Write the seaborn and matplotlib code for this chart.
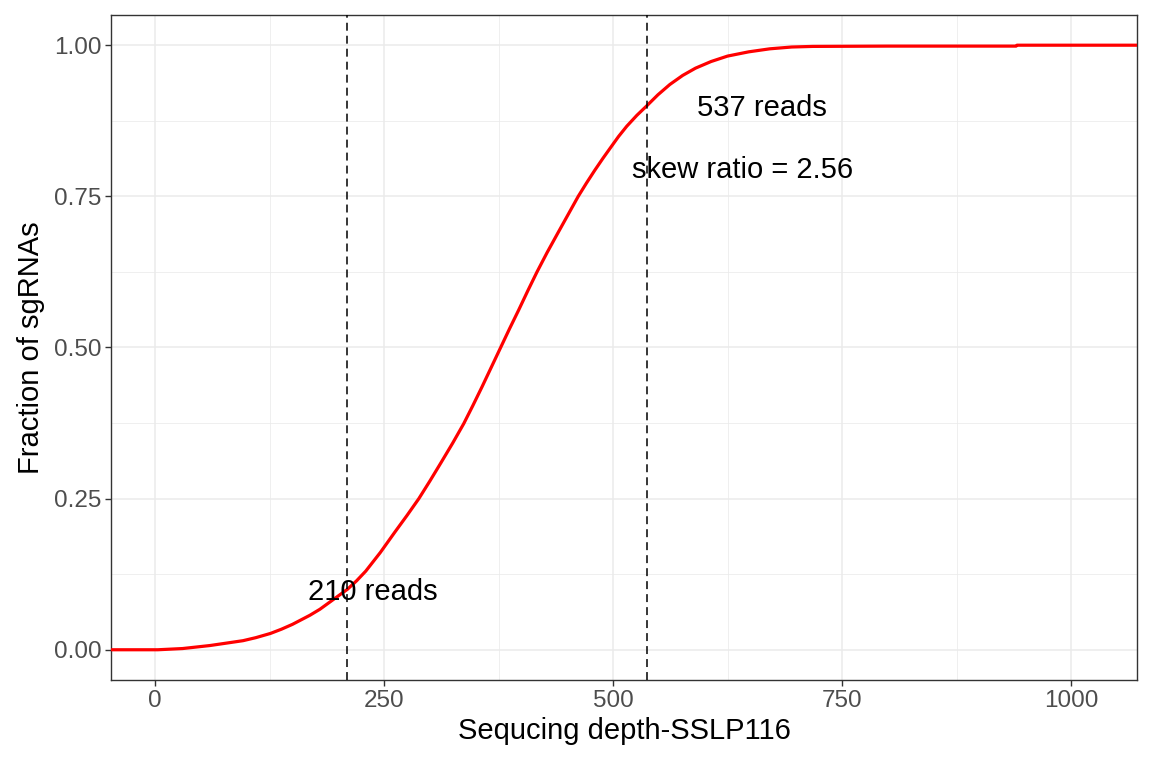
import matplotlib
matplotlib.use('Agg')

import matplotlib.pyplot as plt
import seaborn as sns
import pandas as pd
from matplotlib.ticker import FixedLocator

# =========================================================
# DATA (read off the reference ECDF)
# =========================================================

depth = [3, 30, 60, 96, 110, 126, 138, 150, 169, 180, 190, 200, 210, 220,
         230, 246, 262, 275, 288, 300, 312, 325, 337, 347, 357, 367, 377,
         387, 397, 407, 417, 428, 440, 451, 462, 471, 480, 489, 497, 506,
         515, 526, 537, 549, 562, 576, 590, 607, 625, 648, 671, 695, 718,
         800, 940, 941, 1021]
fraction = [0.0, 0.002, 0.007, 0.015, 0.020, 0.027, 0.034, 0.042, 0.057,
            0.067, 0.078, 0.089, 0.100, 0.114, 0.130, 0.161, 0.195, 0.222,
            0.250, 0.279, 0.309, 0.342, 0.374, 0.404, 0.435, 0.467, 0.499,
            0.531, 0.562, 0.594, 0.625, 0.657, 0.690, 0.720, 0.750, 0.772,
            0.793, 0.813, 0.830, 0.849, 0.866, 0.884, 0.900, 0.918, 0.935,
            0.950, 0.962, 0.973, 0.982, 0.989, 0.994, 0.997, 0.998, 0.9985,
            0.9985, 1.0, 1.0]

cutoffs = [210, 537]
annot_text = ['210 reads', '537 reads', 'skew ratio = 2.56']
annot_x = [238, 663, 641]
annot_y = [0.096, 0.896, 0.794]

x_ticks = [0, 250, 500, 750, 1000]
y_ticks = [0.0, 0.25, 0.50, 0.75, 1.0]
y_tick_labels = ['0.00', '0.25', '0.50', '0.75', '1.00']

x_lim = (-48, 1072)
y_lim = (-0.05, 1.05)

# =========================================================
# PLOT
# =========================================================

sns.set_theme(style='white')
plt.rcParams['font.family'] = ['Liberation Sans', 'DejaVu Sans']

fig = plt.figure(figsize=(11.52, 7.68), dpi=100)
ax = fig.add_axes([0.0964, 0.1146, 0.8906, 0.8659])

# ecdf is padded out to the panel edges like stat_ecdf does
line_df = pd.DataFrame({
    'depth': [x_lim[0]] + depth + [x_lim[1]],
    'fraction': [0.0] + fraction + [1.0]
})
sns.lineplot(data=line_df, x='depth', y='fraction', color='#FF0000',
             linewidth=2.3, sort=False, ax=ax, zorder=3)

for c in cutoffs:
    ax.axvline(c, color='black', linewidth=1.1, dashes=(5.2, 3.3), zorder=4)

for txt, tx, ty in zip(annot_text, annot_x, annot_y):
    ax.text(tx, ty, txt, fontsize=21, color='black', ha='center', va='center', zorder=5)

ax.set_xlim(*x_lim)
ax.set_ylim(*y_lim)

ax.set_xticks(x_ticks)
ax.set_xticklabels([str(t) for t in x_ticks])
ax.set_yticks(y_ticks)
ax.set_yticklabels(y_tick_labels)
ax.xaxis.set_minor_locator(FixedLocator([125, 375, 625, 875]))
ax.yaxis.set_minor_locator(FixedLocator([0.125, 0.375, 0.625, 0.875]))

ax.set_axisbelow(True)
ax.grid(which='major', color='#EBEBEB', linewidth=1.1)
ax.grid(which='minor', color='#EBEBEB', linewidth=0.55)

ax.tick_params(which='major', direction='out', length=4, width=1,
               color='#333333', labelsize=17.5, labelcolor='#4D4D4D', pad=3,
               bottom=True, left=True)
ax.tick_params(which='minor', length=0)

for sp in ax.spines.values():
    sp.set_visible(True)
    sp.set_color('#333333')
    sp.set_linewidth(1.0)

ax.set_xlabel('Sequcing depth-SSLP116', fontsize=21, color='black', labelpad=4)
ax.set_ylabel('Fraction of sgRNAs', fontsize=21, color='black', labelpad=6)

fig.savefig('out.png', dpi=100)
plt.close()
